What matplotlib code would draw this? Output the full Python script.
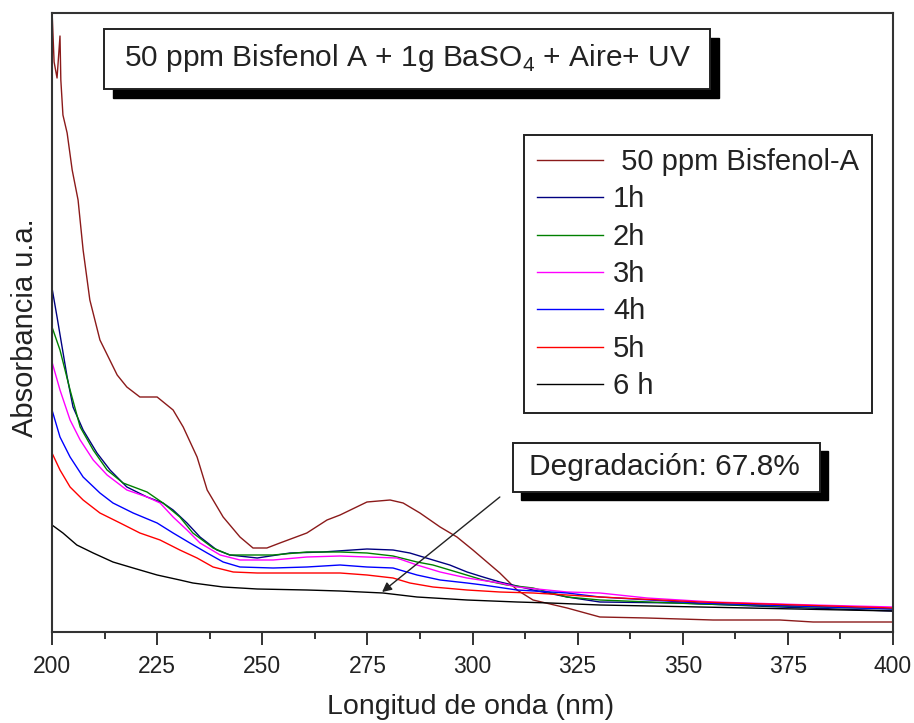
import numpy as np
import matplotlib
matplotlib.use("Agg")
import matplotlib.pyplot as plt
from matplotlib.patches import Rectangle
from matplotlib.ticker import MultipleLocator

plt.rcParams['font.family'] = ['Liberation Sans', 'DejaVu Sans']
plt.rcParams['mathtext.fontset'] = 'custom'
plt.rcParams['mathtext.rm'] = 'Liberation Sans'

# UV-Vis spectra, wavelength (nm) and absorbance (a.u.)
wl_bpa = [200, 200.5, 201.2, 201.9, 202.1, 202.6, 203.6, 204.8, 206.2, 207.4, 209.0, 211.4,
          215.5, 217.8, 220.9, 225.0, 228.8, 231.2, 234.5, 236.9, 240.7, 244.7, 247.8,
          251.1, 254.2, 260.6, 265.4, 268.5, 274.9, 280.4, 283.5, 287.5, 292.3, 296.3,
          300.1, 306.5, 310.6, 314.4, 322.5, 330.3, 341.5, 357.2, 373.1, 381.0, 400]
abs_bpa = [3.11, 2.85, 2.77, 2.98, 2.76, 2.585, 2.495, 2.31, 2.16, 1.91, 1.66, 1.46,
           1.285, 1.225, 1.175, 1.175, 1.11, 1.025, 0.875, 0.71, 0.575, 0.475, 0.42,
           0.42, 0.445, 0.495, 0.56, 0.585, 0.65, 0.66, 0.645, 0.595, 0.525, 0.475,
           0.41, 0.295, 0.21, 0.16, 0.12, 0.075, 0.07, 0.06, 0.06, 0.05, 0.05]

wl_1h = [200, 201.2, 203.6, 205.0, 207.4, 210.7, 213.8, 217.8, 222.6, 226.4, 228.8, 232.1,
         235.2, 239.2, 242.3, 248.8, 256.6, 264.4, 274.9, 281.1, 285.1, 290.6, 294.6,
         298.7, 302.5, 306.5, 309.6, 314.4, 322.5, 330.3, 349.3, 373.1, 400]
abs_1h = [1.72, 1.575, 1.275, 1.125, 1.01, 0.895, 0.81, 0.725, 0.675, 0.645, 0.61, 0.545,
          0.475, 0.41, 0.385, 0.37, 0.395, 0.40, 0.415, 0.41, 0.395, 0.36, 0.335,
          0.30, 0.275, 0.25, 0.235, 0.21, 0.175, 0.15, 0.145, 0.125, 0.105]

wl_2h = [200, 201.9, 204.3, 206.7, 209.8, 213.1, 216.9, 222.6, 226.4, 230.4, 233.5, 238.3,
         242.3, 252.6, 260.6, 268.5, 274.9, 281.1, 286.8, 290.6, 297.0, 302.5, 308.2,
         314.4, 322.5, 330.3, 354.1, 400]
abs_2h = [1.525, 1.41, 1.21, 1.025, 0.91, 0.81, 0.745, 0.70, 0.645, 0.575, 0.495, 0.42,
          0.385, 0.385, 0.40, 0.40, 0.395, 0.38, 0.35, 0.335, 0.295, 0.26, 0.235,
          0.22, 0.175, 0.16, 0.14, 0.115]

wl_3h = [200, 201.9, 204.3, 206.7, 209.8, 213.1, 217.8, 222.6, 225.7, 228.8, 232.1, 235.2,
         240.0, 244.7, 252.6, 260.6, 268.5, 274.9, 282.0, 286.8, 292.3, 298.7, 306.5,
         310.6, 322.5, 330.3, 341.5, 357.2, 381.0, 400]
abs_3h = [1.35, 1.21, 1.06, 0.96, 0.86, 0.785, 0.71, 0.675, 0.645, 0.575, 0.51, 0.445,
          0.385, 0.36, 0.36, 0.375, 0.38, 0.375, 0.37, 0.335, 0.30, 0.27, 0.245,
          0.225, 0.20, 0.195, 0.17, 0.15, 0.135, 0.125]

wl_4h = [200, 201.9, 204.3, 207.4, 211.4, 214.5, 219.3, 225.0, 228.8, 232.8, 236.9, 240.7,
         244.7, 252.6, 260.6, 268.5, 274.9, 281.1, 286.8, 292.3, 298.7, 302.5, 310.6,
         322.5, 330.3, 354.1, 400]
abs_4h = [1.11, 0.975, 0.875, 0.775, 0.695, 0.645, 0.595, 0.545, 0.495, 0.445, 0.395, 0.35,
          0.325, 0.32, 0.325, 0.335, 0.325, 0.32, 0.285, 0.26, 0.245, 0.235, 0.21,
          0.195, 0.175, 0.145, 0.115]

wl_5h = [200, 201.9, 204.3, 207.4, 211.4, 216.2, 220.9, 225.7, 230.4, 234.5, 238.3, 243.1,
         248.8, 268.5, 274.9, 281.1, 285.1, 290.6, 298.7, 306.5, 314.4, 322.5, 330.3,
         354.1, 400]
abs_5h = [0.895, 0.81, 0.725, 0.66, 0.595, 0.545, 0.495, 0.46, 0.41, 0.37, 0.325, 0.30,
          0.295, 0.295, 0.285, 0.27, 0.245, 0.225, 0.21, 0.20, 0.195, 0.185, 0.175,
          0.15, 0.12]

wl_6h = [200, 202.6, 205.9, 209.8, 214.5, 219.3, 225.0, 230.4, 233.5, 240.7, 248.8, 260.6,
         268.5, 278.7, 286.8, 298.7, 310.6, 318.4, 330.3, 354.1, 400]
abs_6h = [0.535, 0.495, 0.435, 0.395, 0.35, 0.32, 0.285, 0.26, 0.245, 0.225, 0.215, 0.21,
          0.205, 0.195, 0.175, 0.16, 0.15, 0.145, 0.135, 0.125, 0.105]

labels = [" 50 ppm Bisfenol-A", "1h", "2h", "3h", "4h", "5h", "6 h"]
colors = ["#8b1a1a", "#000080", "#008000", "#ff00ff", "#0000ff", "#ff0000", "#000000"]
series = [(wl_bpa, abs_bpa), (wl_1h, abs_1h), (wl_2h, abs_2h), (wl_3h, abs_3h),
          (wl_4h, abs_4h), (wl_5h, abs_5h), (wl_6h, abs_6h)]

degradacion = 67.8
arrow_tip = (278.5, 0.20)
arrow_tail = (306.5, 0.675)

W, H = 914, 723
fig = plt.figure(figsize=(W / 100, H / 100), dpi=100)
ax = fig.add_axes([52 / W, 1 - 632 / H, 841 / W, 619 / H])

for (x, y), c, lab in zip(series, colors, labels):
    ax.plot(x, y, color=c, lw=1.0, label=lab)

ax.set_xlim(200, 400)
ax.set_ylim(0, 3.095)
ax.xaxis.set_major_locator(MultipleLocator(25))
ax.xaxis.set_minor_locator(MultipleLocator(12.5))
ax.set_yticks([])
ax.tick_params(axis='x', which='major', direction='out', length=9.5, width=1.4,
               color='#333333', labelsize=16.5, pad=7, labelcolor='#222222')
ax.tick_params(axis='x', which='minor', direction='out', length=5, width=1.4, color='#333333')
for sp in ax.spines.values():
    sp.set_color('#333333')
    sp.set_linewidth(1.5)

ax.set_xlabel("Longitud de onda (nm)", fontsize=20.5, color='#222222')
ax.set_ylabel("Absorbancia u.a.", fontsize=21, color='#222222')
ax.xaxis.set_label_coords(0.498, -0.1)
ax.yaxis.set_label_coords(-0.016, 0.492)

leg = ax.legend(loc='upper left', bbox_to_anchor=((524 - 52) / 841, (632 - 135) / 619),
                fontsize=21, frameon=True, fancybox=False, framealpha=1,
                edgecolor='#222222', handlelength=2.25, handletextpad=0.35,
                labelspacing=0.32, borderpad=0.45, borderaxespad=0)
leg.get_frame().set_linewidth(1.4)
for t in leg.get_texts():
    t.set_color('#222222')


def shadow_box(x0, y0, x1, y1, off):
    # boxed label with a solid drop shadow, pixel coords from the top-left
    sh = Rectangle(((x0 + off) / W, 1 - (y1 + off) / H), (x1 - x0) / W, (y1 - y0) / H,
                   transform=fig.transFigure, facecolor='black', edgecolor='black', zorder=5)
    bx = Rectangle((x0 / W, 1 - y1 / H), (x1 - x0) / W, (y1 - y0) / H,
                   transform=fig.transFigure, facecolor='white', edgecolor='#222222',
                   lw=1.4, zorder=6)
    fig.add_artist(sh)
    fig.add_artist(bx)


shadow_box(104, 29, 710, 89, 9)
fig.text(407 / W, 1 - 58 / H, r"50 ppm Bisfenol A + 1g BaSO$_{\mathrm{4}}$ + Aire+ UV",
         fontsize=21.5, ha='center', va='center', color='#222222', zorder=7)

shadow_box(513, 443, 820, 492, 8)
fig.text(664 / W, 1 - 467 / H, "Degradación: %.1f%%" % degradacion,
         fontsize=21.5, ha='center', va='center', color='#222222', zorder=7)

ax.annotate("", xy=arrow_tip, xytext=arrow_tail,
            arrowprops=dict(arrowstyle='-|>', color='#222222', lw=1.0,
                            mutation_scale=14, shrinkA=0, shrinkB=0))

fig.savefig("out.png", dpi=100)
